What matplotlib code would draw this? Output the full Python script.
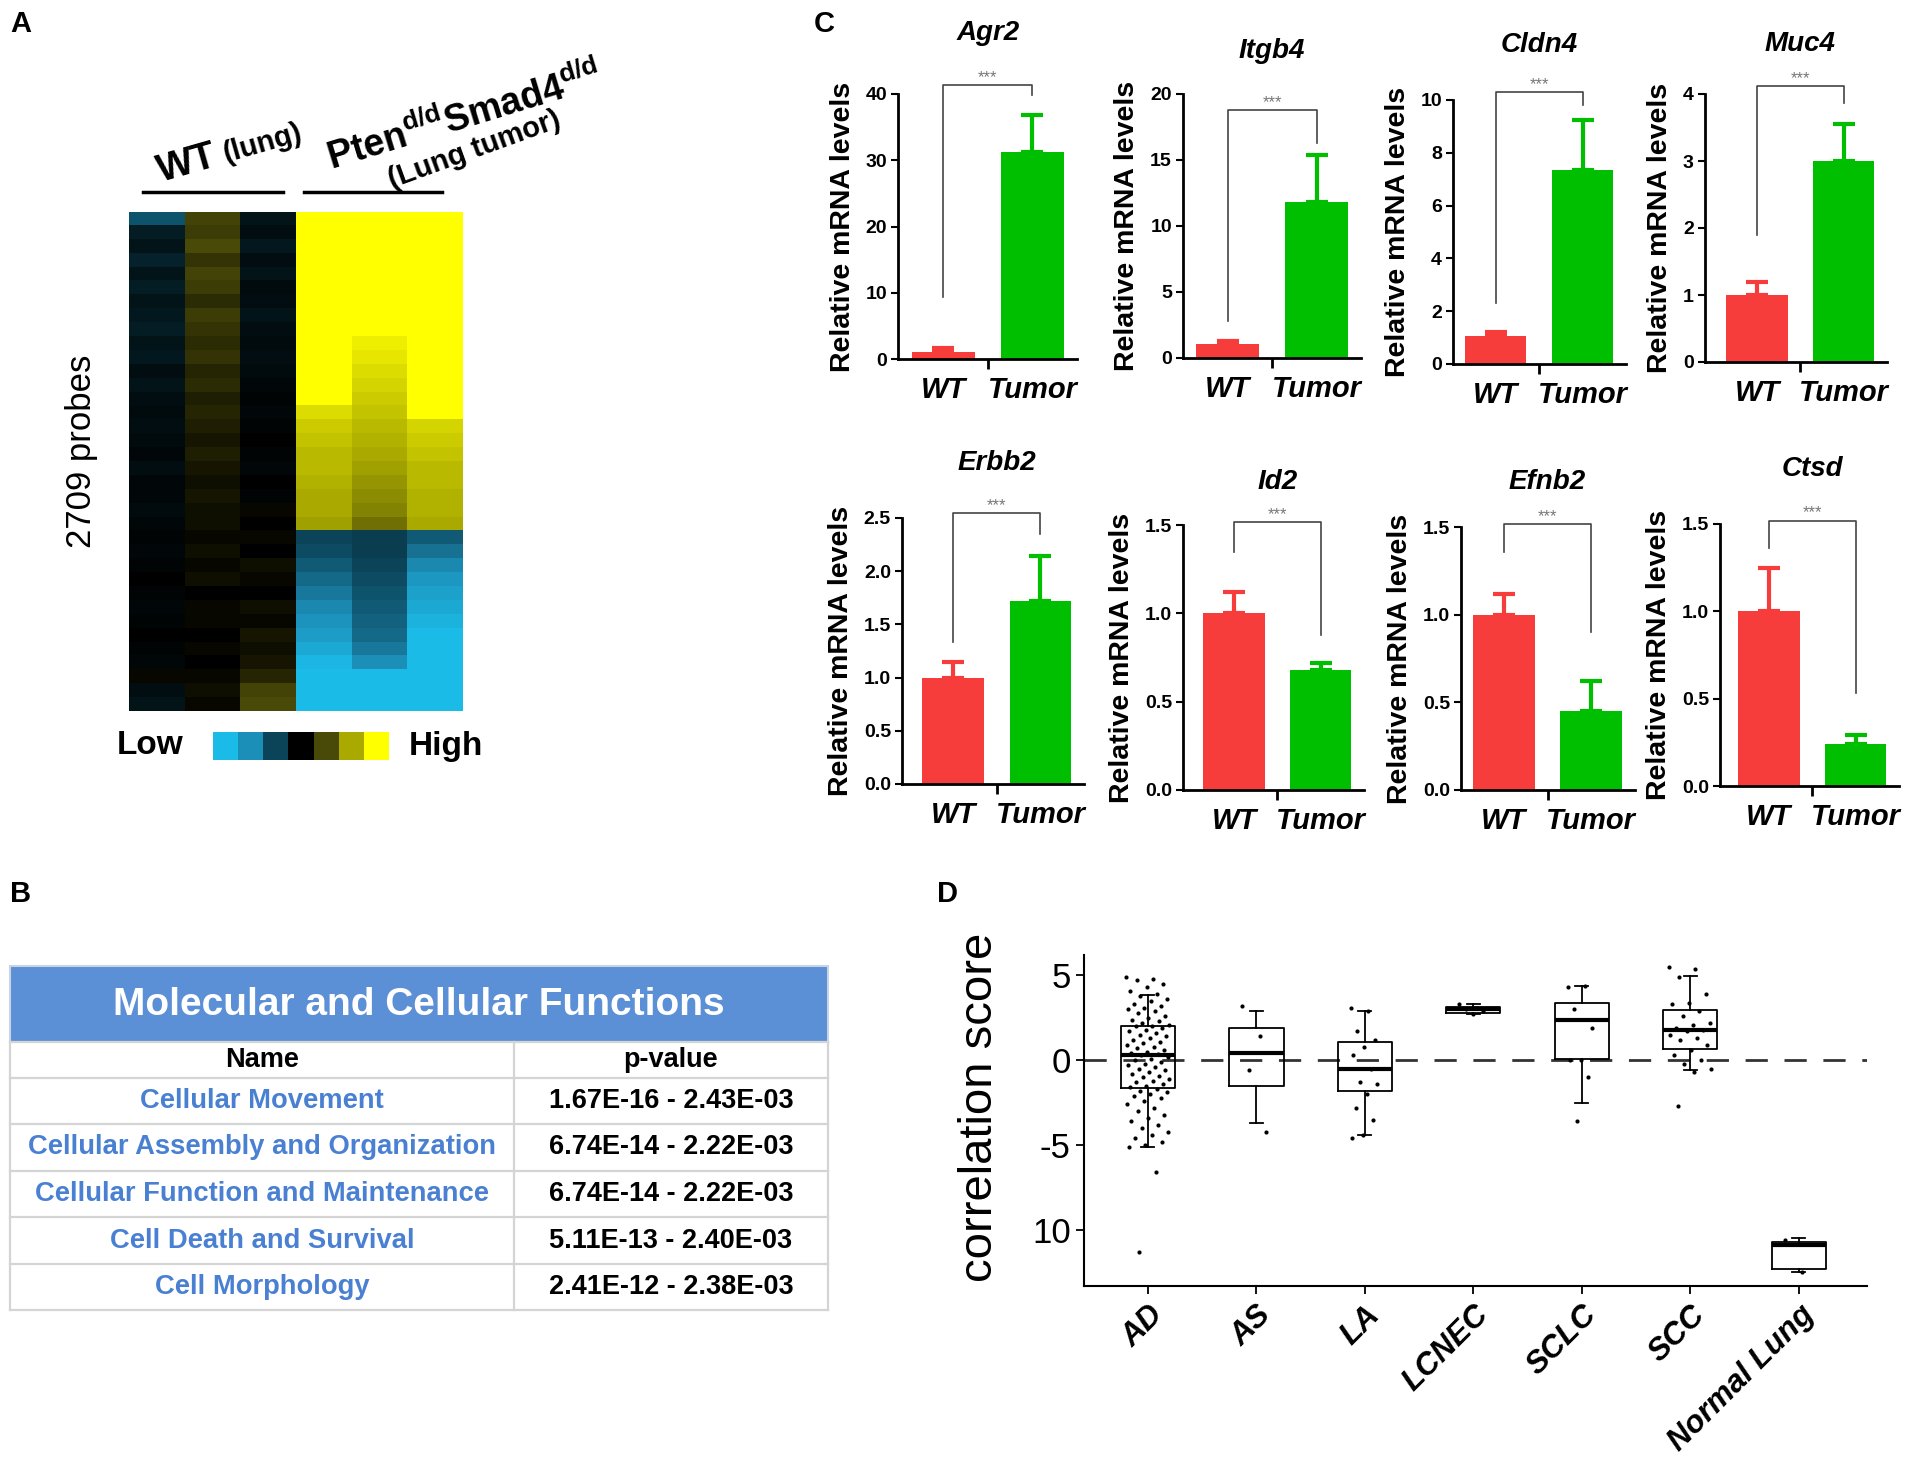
import numpy as np
import matplotlib.pyplot as plt
from matplotlib.colors import LinearSegmentedColormap

plt.rcParams['font.family'] = ['Liberation Sans', 'DejaVu Sans']
plt.rcParams['mathtext.fontset'] = 'custom'
plt.rcParams['mathtext.rm'] = 'Liberation Sans'
plt.rcParams['mathtext.bf'] = 'Liberation Sans:bold'

W, H = 1920, 1465

# ---------------- panel A: heatmap (36 probe bins x 6 samples)
wt_1 = [-1.2, -0.4, -0.3, -0.5, -0.3, -0.4, -0.3, -0.35, -0.4, -0.3, -0.35, -0.2,
        -0.3, -0.2, -0.15, -0.2, -0.15, -0.1, -0.2, -0.1, -0.1, -0.15, -0.1, -0.05,
        -0.1, -0.05, 0.0, -0.05, -0.1, -0.05, 0.0, -0.05, -0.1, 0.1, -0.2, -0.3]
wt_2 = [0.9, 0.8, 1.0, 0.7, 0.9, 0.8, 0.6, 0.8, 0.7, 0.6, 0.7, 0.5,
        0.6, 0.4, 0.5, 0.4, 0.3, 0.4, 0.3, 0.2, 0.3, 0.2, 0.2, 0.1,
        0.2, 0.1, 0.2, 0.0, 0.1, 0.1, 0.0, 0.1, 0.0, 0.1, 0.2, 0.1]
wt_3 = [-0.3, -0.2, -0.35, -0.2, -0.3, -0.15, -0.2, -0.3, -0.2, -0.15, -0.2, -0.15,
        -0.1, -0.05, -0.1, -0.05, 0.0, -0.05, -0.1, 0.0, -0.05, 0.1, 0.0, 0.1,
        0.0, 0.2, 0.1, 0.0, 0.2, 0.1, 0.3, 0.2, 0.3, 0.5, 0.9, 1.0]
tu_1 = [3.0, 3.0, 3.0, 3.0, 3.0, 3.0, 3.0, 3.0, 3.0, 3.0, 3.0, 3.0,
        3.0, 3.0, 2.6, 2.4, 2.3, 2.2, 2.2, 2.1, 2.0, 2.0, 1.9, -1.0,
        -1.1, -1.3, -1.5, -1.7, -1.9, -2.1, -2.3, -2.6, -2.9, -3.0, -3.0, -3.0]
tu_2 = [3.0, 3.0, 3.0, 3.0, 3.0, 3.0, 3.0, 3.0, 3.0, 2.8, 2.7, 2.6,
        2.5, 2.4, 2.3, 2.2, 2.1, 2.0, 1.9, 1.8, 1.7, 1.6, 1.4, -0.9,
        -0.9, -1.0, -1.1, -1.2, -1.3, -1.4, -1.5, -1.7, -2.0, -3.0, -3.0, -3.0]
tu_3 = [3.0, 3.0, 3.0, 3.0, 3.0, 3.0, 3.0, 3.0, 3.0, 3.0, 3.0, 3.0,
        3.0, 3.0, 3.0, 2.5, 2.4, 2.3, 2.2, 2.2, 2.1, 2.1, 2.0, -1.3,
        -1.6, -1.9, -2.2, -2.4, -2.6, -2.8, -3.0, -3.0, -3.0, -3.0, -3.0, -3.0]
legend_levels = [-3, -2, -1, 0, 1, 2, 3]

# ---------------- panel B: table
functions = ['Cellular Movement', 'Cellular Assembly and Organization',
             'Cellular Function and Maintenance', 'Cell Death and Survival',
             'Cell Morphology']
pvalues = ['1.67E-16 - 2.43E-03', '6.74E-14 - 2.22E-03', '6.74E-14 - 2.22E-03',
           '5.11E-13 - 2.40E-03', '2.41E-12 - 2.38E-03']

# ---------------- panel C: qPCR bars
genes = ['Agr2', 'Itgb4', 'Cldn4', 'Muc4', 'Erbb2', 'Id2', 'Efnb2', 'Ctsd']
wt_mean = [1.0, 1.05, 1.05, 1.0, 1.0, 1.0, 1.0, 1.0]
wt_err = [0.7, 0.25, 0.15, 0.2, 0.15, 0.12, 0.12, 0.25]
tumor_mean = [31.2, 11.8, 7.35, 3.0, 1.72, 0.68, 0.45, 0.24]
tumor_err = [5.6, 3.6, 1.9, 0.55, 0.42, 0.04, 0.17, 0.05]
y_max = [40, 20, 10, 4, 2.5, 1.5, 1.5, 1.5]
y_step = [10, 5, 2, 1, 0.5, 0.5, 0.5, 0.5]
br_top = [41.4, 18.8, 10.3, 4.12, 2.55, 1.515, 1.515, 1.52]
br_left = [9.3, 2.8, 2.3, 1.89, 1.33, 1.35, 1.36, 1.36]
br_right = [39.8, 16.3, 9.8, 3.86, 2.35, 0.88, 0.90, 0.53]

# ---------------- panel D: correlation score
groups = ['AD', 'AS', 'LA', 'LCNEC', 'SCLC', 'SCC', 'Normal Lung']
box_med = [0.3, 0.4, -0.5, 3.0, 2.4, 1.8, -10.9]
box_q1 = [-1.65, -1.5, -1.8, 2.8, 0.05, 0.65, -12.3]
box_q3 = [2.0, 1.9, 1.1, 3.15, 3.35, 2.95, -10.7]
box_lo = [-5.1, -3.7, -4.4, 2.7, -2.5, -0.6, -12.5]
box_hi = [3.85, 2.9, 2.9, 3.3, 4.4, 4.95, -10.5]
pts_AD = [4.9, 4.8, 4.7, 4.5, 4.3, 4.1, 3.9, 3.8, 3.6, 3.5, 3.3, 3.2, 3.1, 3.0,
          2.9, 2.8, 2.6, 2.5, 2.4, 2.3, 2.2, 2.1, 2.0, 2.0, 1.9, 1.8, 1.7, 1.6,
          1.5, 1.4, 1.3, 1.2, 1.1, 1.0, 0.9, 0.8, 0.7, 0.6, 0.5, 0.4, 0.35, 0.3,
          0.2, 0.1, 0.0, -0.1, -0.2, -0.3, -0.4, -0.5, -0.6, -0.7, -0.8, -0.9,
          -1.0, -1.1, -1.2, -1.3, -1.4, -1.5, -1.6, -1.7, -1.8, -1.9, -2.0, -2.1,
          -2.2, -2.4, -2.6, -2.8, -3.0, -3.2, -3.4, -3.6, -3.8, -4.0, -4.2, -4.4,
          -4.6, -4.8, -5.0, -5.1, -6.6, -11.3]
pts_AS = [3.2, 1.4, -0.6, -4.2]
pts_LA = [3.1, 2.9, 1.7, 1.2, 0.8, 0.3, -0.5, -1.3, -1.4, -2.0, -2.8, -3.5, -4.4, -4.6]
pts_LCNEC = [3.3, 3.1, 3.0, 2.9, 2.7]
pts_SCLC = [4.3, 4.4, 3.0, 1.9, 0.0, 0.0, -1.0, -3.6]
pts_SCC = [5.5, 5.4, 4.9, 3.9, 3.4, 3.3, 2.9, 2.6, 2.2, 2.1, 1.9, 1.8, 1.7, 1.5,
           1.3, 1.2, 0.9, 0.6, 0.3, 0.0, -0.2, -0.5, -0.7, -2.7]
pts_NL = [-10.6, -12.5]
d_yticks = [5, 0, -5, -10]
d_yticklabels = ['5', '0', '-5', '10']

RED = '#f73c3c'
GREEN = '#00be00'
BLUE_TXT = '#4a80d2'


def fig_rect(x0, y0, x1, y1):
    return [x0 / W, 1 - y1 / H, (x1 - x0) / W, (y1 - y0) / H]


fig = plt.figure(figsize=(19.2, 14.65), dpi=100)
ov = fig.add_axes([0, 0, 1, 1])
ov.set_xlim(0, W)
ov.set_ylim(H, 0)
ov.axis('off')

for lab, x, y in [('A', 10, 10), ('B', 10, 880), ('C', 814, 10), ('D', 937, 880)]:
    ov.text(x, y, lab, fontsize=21, fontweight='bold', ha='left', va='top')

# ---- A
cmap = LinearSegmentedColormap.from_list(
    'lowhigh', ['#1bbbe8', '#1d8fb8', '#0b4458', '#000000', '#4a4a08', '#a8a800', '#ffff00'])
heat = np.column_stack([wt_1, wt_2, wt_3, tu_1, tu_2, tu_3])
axh = fig.add_axes(fig_rect(129, 212, 463, 711))
axh.imshow(heat, cmap=cmap, vmin=-3, vmax=3, aspect='auto', interpolation='nearest')
axh.axis('off')

axl = fig.add_axes(fig_rect(213, 732, 389, 760))
axl.imshow([legend_levels], cmap=cmap, vmin=-3, vmax=3, aspect='auto')
axl.axis('off')
ov.text(150, 746, 'Low', fontsize=24, fontweight='bold', ha='center', va='center')
ov.text(446, 746, 'High', fontsize=24, fontweight='bold', ha='center', va='center')
ov.text(82, 451, '2709 probes', fontsize=25, rotation=90, ha='center', va='center')

ov.text(161, 182, 'WT', fontsize=28, fontweight='bold', rotation=16,
        rotation_mode='anchor', ha='left', va='baseline')
ov.text(226, 162, '(lung)', fontsize=21, fontweight='bold', rotation=16,
        rotation_mode='anchor', ha='left', va='baseline')
ov.text(331, 170, r'$\mathbf{Pten}^{\mathbf{d/d}}\mathbf{Smad4}^{\mathbf{d/d}}$',
        fontsize=27, rotation=17, rotation_mode='anchor', ha='left', va='baseline')
ov.text(392, 188, '(Lung tumor)', fontsize=21, fontweight='bold', rotation=20,
        rotation_mode='anchor', ha='left', va='baseline')
ov.plot([143, 283], [192, 192], color='k', lw=2.5)
ov.plot([304, 442], [192, 192], color='k', lw=2.5)

# ---- B
tx0, tx1, tmid = 10, 828, 514
ov.add_patch(plt.Rectangle((tx0, 966), tx1 - tx0, 76, facecolor='#5b8fd6',
                           edgecolor='#c8d4e6', lw=1.5))
ov.text((tx0 + tx1) / 2, 1005, 'Molecular and Cellular Functions', color='white',
        fontsize=28, fontweight='bold', ha='center', va='center')
row_edges = [1042, 1078, 1124, 1171, 1217, 1264, 1310]
for ye in row_edges:
    ov.plot([tx0, tx1], [ye, ye], color='#d4d4d4', lw=1.6)
ov.plot([tx0, tx0], [1042, 1310], color='#d4d4d4', lw=1.6)
ov.plot([tx1, tx1], [1042, 1310], color='#d4d4d4', lw=1.6)
ov.plot([tmid, tmid], [1042, 1310], color='#d4d4d4', lw=1.6)
ov.text((tx0 + tmid) / 2, 1060, 'Name', fontsize=19.5, fontweight='bold', ha='center', va='center')
ov.text((tmid + tx1) / 2, 1060, 'p-value', fontsize=19.5, fontweight='bold', ha='center', va='center')
for k, (fn, pv) in enumerate(zip(functions, pvalues)):
    yc = (row_edges[k + 1] + row_edges[k + 2]) / 2
    ov.text((tx0 + tmid) / 2, yc, fn, fontsize=19.7, fontweight='bold', color=BLUE_TXT,
            ha='center', va='center')
    ov.text((tmid + tx1) / 2, yc, pv, fontsize=19.5, fontweight='bold', ha='center', va='center')

# ---- C
c_left = [898, 1183, 1453, 1705, 902, 1183, 1461, 1720]
c_right = [1077, 1361, 1626, 1887, 1084, 1364, 1635, 1899]
c_top = [94, 94, 100, 94, 518, 525, 527, 524]
c_bot = [359, 358, 364, 362, 784, 790, 790, 786]
x_left = [-0.51, -0.5, -0.49, -0.6, -0.59, -0.59, -0.49, -0.56]
title_y = [33, 51, 45, 44, 463, 482, 482, 469]

for i, g in enumerate(genes):
    ax = fig.add_axes(fig_rect(c_left[i], c_top[i], c_right[i], c_bot[i]))
    ax.bar([0, 1], [wt_mean[i], tumor_mean[i]], width=0.71, color=[RED, GREEN])
    for xb, m, e, col in [(0, wt_mean[i], wt_err[i], RED), (1, tumor_mean[i], tumor_err[i], GREEN)]:
        ax.errorbar(xb, m, yerr=[[0], [e]], fmt='none', ecolor=col, elinewidth=3,
                    capsize=8, capthick=3)
    ax.set_xlim(x_left[i], 1.5)
    ax.set_ylim(0, y_max[i])
    yt = np.arange(0, y_max[i] + 1e-9, y_step[i])
    ax.set_yticks(yt)
    if y_step[i] < 1:
        ax.set_yticklabels(['%.1f' % v for v in yt])
    else:
        ax.set_yticklabels(['%d' % v for v in yt])
    for lab in ax.get_yticklabels():
        lab.set_fontweight('bold')
    ax.tick_params(axis='y', labelsize=14, length=5, width=1.5, pad=3)
    ax.set_xticks([0, 1])
    ax.set_xticklabels(['WT', 'Tumor'], fontsize=21, style='italic', fontweight='bold')
    ax.set_xticks([0.5], minor=True)
    ax.tick_params(axis='x', which='major', length=0, pad=12)
    ax.tick_params(axis='x', which='minor', length=7, width=2)
    for s in ['top', 'right']:
        ax.spines[s].set_visible(False)
    for s in ['left', 'bottom']:
        ax.spines[s].set_linewidth(2)
    ax.set_ylabel('Relative mRNA levels', fontsize=20.5, fontweight='bold', labelpad=7)
    ax.plot([0, 0, 1, 1], [br_left[i], br_top[i], br_top[i], br_right[i]],
            color='#444444', lw=1.2, clip_on=False)
    ax.text(0.5, br_top[i], '***', ha='center', va='bottom', fontsize=12, color='#777777')
    ax.annotate(g, xy=(0.5, H - title_y[i]), xycoords=('data', 'figure pixels'),
                ha='center', va='center', fontsize=20, fontweight='bold', style='italic',
                annotation_clip=False)

# ---- D
axd = fig.add_axes(fig_rect(1084, 955, 1867, 1286))
stats = [dict(med=box_med[k], q1=box_q1[k], q3=box_q3[k], whislo=box_lo[k],
              whishi=box_hi[k], fliers=[]) for k in range(len(groups))]
axd.bxp(stats, positions=list(range(len(groups))), widths=0.5, capwidths=0.12,
        showfliers=False, manage_ticks=False,
        boxprops=dict(color='k', lw=1.3), whiskerprops=dict(color='k', lw=1.3),
        capprops=dict(color='k', lw=1.3), medianprops=dict(color='k', lw=3))
all_pts = [pts_AD, pts_AS, pts_LA, pts_LCNEC, pts_SCLC, pts_SCC, pts_NL]
for k, pts in enumerate(all_pts):
    spread = 0.2 if len(pts) > 20 else 0.13
    xs = [k + ((j * 0.618034) % 1 - 0.5) * 2 * spread for j in range(len(pts))]
    axd.scatter(xs, pts, s=9, color='k', zorder=3, linewidths=0)
axd.axhline(0, color='#333333', lw=2, dashes=(8, 6), zorder=1)
axd.set_xlim(-0.59, 6.63)
axd.set_ylim(-13.3, 6.2)
axd.set_yticks(d_yticks)
axd.set_yticklabels(d_yticklabels)
axd.tick_params(axis='y', labelsize=25, length=6, width=1.3)
axd.set_xticks(range(len(groups)))
axd.set_xticklabels(groups, rotation=45, ha='right', rotation_mode='anchor',
                    fontsize=22.5, fontweight='bold', style='italic')
axd.tick_params(axis='x', length=6, width=1.3, pad=4)
for s in ['top', 'right']:
    axd.spines[s].set_visible(False)
for s in ['left', 'bottom']:
    axd.spines[s].set_linewidth(1.5)
axd.set_ylabel('correlation score', fontsize=34)
axd.yaxis.set_label_coords(-0.105, 0.54)

fig.savefig('out.png', dpi=100)
